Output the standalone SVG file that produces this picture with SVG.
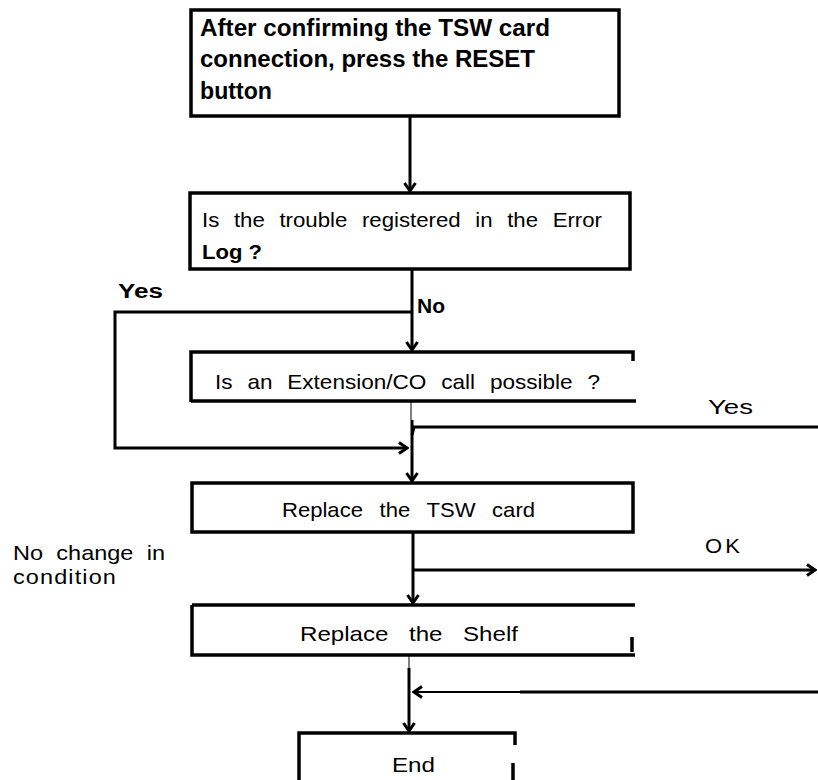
<svg xmlns="http://www.w3.org/2000/svg" width="818" height="780" viewBox="0 0 818 780">
<style>
.box{fill:none;stroke:#000;stroke-width:3.5}
.ln{fill:none;stroke:#000;stroke-width:3}
.mid{fill:none;stroke:#000;stroke-width:2}
.thin{fill:none;stroke:#000;stroke-width:1}
.t{font-family:"Liberation Sans",Arial,sans-serif;font-size:21px;fill:#000}
.b{font-family:"Liberation Sans",Arial,sans-serif;font-size:23px;font-weight:bold;fill:#000}
.bs{font-family:"Liberation Sans",Arial,sans-serif;font-size:20px;font-weight:bold;fill:#000}
</style>
<defs>
<marker id="ah" markerWidth="14" markerHeight="14" viewBox="0 0 14 14" refX="12" refY="7" orient="auto" markerUnits="userSpaceOnUse">
<polyline points="4,1.5 12,7 4,12.5" fill="none" stroke="#000" stroke-width="3"/>
</marker>
</defs>
<rect width="818" height="780" fill="#fff"/>

<g id="n1">
<rect class="box" x="191" y="10" width="428" height="106"/>
<text class="b" x="200" y="36" textLength="350" lengthAdjust="spacingAndGlyphs">After confirming the TSW card</text>
<text class="b" x="200" y="67" textLength="335" lengthAdjust="spacingAndGlyphs">connection, press the RESET</text>
<text class="b" x="200" y="99" textLength="72" lengthAdjust="spacingAndGlyphs">button</text>
</g>

<g id="n2">
<rect class="box" x="190" y="193" width="440" height="76"/>
<text class="t" x="202" y="227" word-spacing="8" textLength="400" lengthAdjust="spacingAndGlyphs">Is the trouble registered in the Error</text>
<text class="bs" x="202" y="259" textLength="60" lengthAdjust="spacingAndGlyphs">Log ?</text>
</g>

<g id="n3">
<path class="box" d="M191,402 V352 H633 V361 M191,401 H636"/>
<text class="t" x="215" y="389" word-spacing="8" textLength="385" lengthAdjust="spacingAndGlyphs">Is an Extension/CO call possible ?</text>
</g>

<g id="n4">
<rect class="box" x="192" y="483" width="441" height="49"/>
<text class="t" x="282" y="517" word-spacing="10" textLength="253" lengthAdjust="spacingAndGlyphs">Replace the TSW card</text>
</g>

<g id="n5">
<path class="box" d="M192,605 H635 M192,605 V655 H635 M632,637 V652"/>
<text class="t" x="300" y="641" word-spacing="12" textLength="218" lengthAdjust="spacingAndGlyphs">Replace the Shelf</text>
</g>

<g id="n6">
<path class="box" d="M299,780 V733 H515 V745 M513,763 V780"/>
<text class="t" x="392" y="772" textLength="43" lengthAdjust="spacingAndGlyphs">End</text>
</g>

<g id="connectors">
<line class="ln" x1="410" y1="116" x2="410" y2="191" marker-end="url(#ah)"/>
<line class="ln" x1="412" y1="269" x2="412" y2="350" marker-end="url(#ah)"/>
<polyline class="ln" points="412,312 115,312 115,448 407,448" marker-end="url(#ah)"/>
<line class="thin" x1="411" y1="402" x2="411" y2="420"/>
<line class="ln" x1="412" y1="420" x2="412" y2="481" marker-end="url(#ah)"/>
<polyline class="ln" points="412,435 414,427 818,427"/>
<line class="ln" x1="413" y1="532" x2="413" y2="603" marker-end="url(#ah)"/>
<line class="ln" x1="413" y1="570" x2="815" y2="570" marker-end="url(#ah)"/>
<line class="thin" x1="409" y1="655" x2="409" y2="668"/>
<line class="ln" x1="409" y1="668" x2="409" y2="731" marker-end="url(#ah)"/>
<line class="ln" x1="818" y1="692" x2="520" y2="692"/>
<line class="mid" x1="521" y1="692" x2="414" y2="692" marker-end="url(#ah)"/>
</g>

<g id="labels">
<text class="bs" x="118" y="298" textLength="45" lengthAdjust="spacingAndGlyphs">Yes</text>
<text class="bs" x="417" y="313" textLength="28" lengthAdjust="spacingAndGlyphs">No</text>
<text class="t" x="708" y="414" textLength="45" lengthAdjust="spacingAndGlyphs">Yes</text>
<text class="t" x="705" y="553" letter-spacing="3" textLength="38" lengthAdjust="spacingAndGlyphs">OK</text>
<text class="t" x="13" y="560" word-spacing="6" textLength="152" lengthAdjust="spacingAndGlyphs">No change in</text>
<text class="t" x="13" y="584" letter-spacing="1" textLength="104" lengthAdjust="spacingAndGlyphs">condition</text>
</g>
</svg>
